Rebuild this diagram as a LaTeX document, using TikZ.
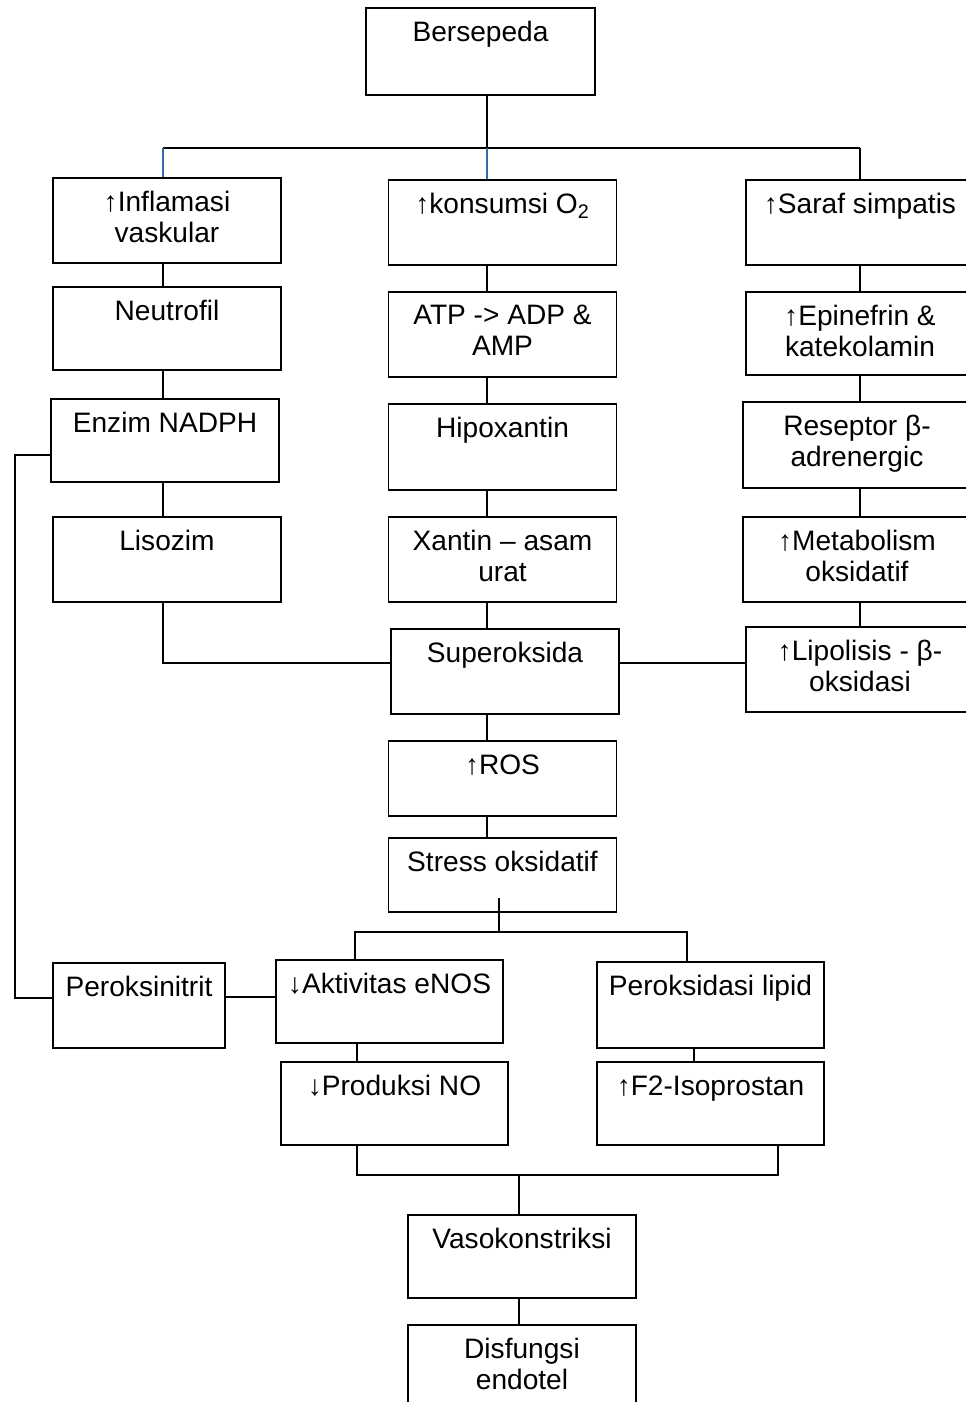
\documentclass[tikz,border=0pt]{standalone}
\usepackage{fontspec}
\setmainfont{Liberation Sans}
\definecolor{tickblue}{RGB}{55,105,170}
\begin{document}
\begin{tikzpicture}[
        x=0.02cm, y=-0.02cm,
        box/.style={draw, line width=1.1pt, inner sep=0pt, minimum width=4.56cm, minimum height=1.7cm},
        txt/.style={anchor=north, yshift=-0.28cm, inner sep=0pt, align=center, font=\fontsize{16}{17.6}\selectfont},
        link/.style={line width=1.1pt},
    ]
        \useasboundingbox (0,0) rectangle (966,1402);
        \clip (0,0) rectangle (966,1402);

        % Top
        \node[box, minimum width=4.58cm, minimum height=1.74cm] (bers) at (480.5,51.5) {};
        \node[txt] (bers-t) at (bers.north) {Bersepeda};

        % Left column
        \node[box] (infl) at (167,220.5) {};
        \node[txt] (infl-t) at (infl.north) {↑Inflamasi\\vaskular};
        \node[box, minimum height=1.66cm] (neut) at (167,328.5) {};
        \node[txt] (neut-t) at (neut.north) {Neutrofil};
        \node[box, minimum height=1.66cm] (nadph) at (165,440.5) {};
        \node[txt] (nadph-t) at (nadph.north) {Enzim NADPH};
        \node[box] (liso) at (167,559.5) {};
        \node[txt] (liso-t) at (liso.north) {Lisozim};

        % Middle column
        \node[box] (kons) at (502.5,222.5) {};
        \node[txt] (kons-t) at (kons.north) {↑konsumsi O\textsubscript{2}};
        \node[box] (atp) at (502.5,334.5) {};
        \node[txt] (atp-t) at (atp.north) {ATP -> ADP \&\\AMP};
        \node[box, minimum height=1.72cm] (hipo) at (502.5,447) {};
        \node[txt] (hipo-t) at (hipo.north) {Hipoxantin};
        \node[box] (xant) at (502.5,559.5) {};
        \node[txt] (xant-t) at (xant.north) {Xantin – asam\\urat};
        \node[box] (supe) at (505,671.5) {};
        \node[txt] (supe-t) at (supe.north) {Superoksida};
        \node[box, minimum height=1.5cm] (ros) at (502.5,778.5) {};
        \node[txt] (ros-t) at (ros.north) {↑ROS};
        \node[box, minimum height=1.48cm] (stress) at (502.5,875) {};
        \node[txt] (stress-t) at (stress.north) {Stress oksidatif};

        % Right column
        \node[box] (saraf) at (860,222.5) {};
        \node[txt] (saraf-t) at (saraf.north) {↑Saraf simpatis};
        \node[box, minimum height=1.66cm] (epi) at (860,333.5) {};
        \node[txt] (epi-t) at (epi.north) {↑Epinefrin \&\\katekolamin};
        \node[box, minimum height=1.72cm] (resep) at (857,445) {};
        \node[txt] (resep-t) at (resep.north) {Reseptor β-\\adrenergic};
        \node[box] (meta) at (857,559.5) {};
        \node[txt] (meta-t) at (meta.north) {↑Metabolism\\oksidatif};
        \node[box] (lipo) at (860,669.5) {};
        \node[txt] (lipo-t) at (lipo.north) {↑Lipolisis - β-\\oksidasi};

        % Lower part
        \node[box, minimum width=3.44cm] (pern) at (139,1005.5) {};
        \node[txt] (pern-t) at (pern.north) {Peroksinitrit};
        \node[box, minimum width=4.54cm, minimum height=1.66cm] (enos) at (389.5,1001.5) {};
        \node[txt] (enos-t) at (enos.north) {↓Aktivitas eNOS};
        \node[box, minimum width=4.54cm, minimum height=1.72cm] (perl) at (710.5,1005) {};
        \node[txt] (perl-t) at (perl.north) {Peroksidasi lipid};
        \node[box, minimum width=4.54cm, minimum height=1.66cm] (prod) at (394.5,1103.5) {};
        \node[txt] (prod-t) at (prod.north) {↓Produksi NO};
        \node[box, minimum width=4.54cm, minimum height=1.66cm] (f2) at (710.5,1103.5) {};
        \node[txt] (f2-t) at (f2.north) {↑F2-Isoprostan};
        \node[box, minimum height=1.66cm] (vaso) at (522,1256.5) {};
        \node[txt] (vaso-t) at (vaso.north) {Vasokonstriksi};
        \node[box] (disf) at (522,1367.5) {};
        \node[txt] (disf-t) at (disf.north) {Disfungsi\\endotel};

        % Branching from the top
        \coordinate (hubL) at (163,148);
        \coordinate (hub) at (487,148);
        \coordinate (hubR) at (860,148);
        \draw[link] (bers.south -| hub) -- (hub);
        \draw[link] (hubL) -- (hubR);
        \draw[link, tickblue] (hubL) -- (hubL |- infl.north);
        \draw[link, tickblue] (hub) -- (hub |- kons.north);
        \draw[link] (hubR) -- (hubR |- saraf.north);

        % Column links
        \draw[link] (infl.south -| hubL) -- (neut.north -| hubL);
        \draw[link] (neut.south -| hubL) -- (nadph.north -| hubL);
        \draw[link] (nadph.south -| hubL) -- (liso.north -| hubL);
        \draw[link] (kons.south -| hub) -- (atp.north -| hub);
        \draw[link] (atp.south -| hub) -- (hipo.north -| hub);
        \draw[link] (hipo.south -| hub) -- (xant.north -| hub);
        \draw[link] (xant.south -| hub) -- (supe.north -| hub);
        \draw[link] (supe.south -| hub) -- (ros.north -| hub);
        \draw[link] (ros.south -| hub) -- (stress.north -| hub);
        \draw[link] (saraf.south -| hubR) -- (epi.north -| hubR);
        \draw[link] (epi.south -| hubR) -- (resep.north -| hubR);
        \draw[link] (resep.south -| hubR) -- (meta.north -| hubR);
        \draw[link] (meta.south -| hubR) -- (lipo.north -| hubR);

        % Into Superoksida
        \draw[link] (liso.south -| hubL) |- (supe.west |- 0,663);
        \draw[link] (supe.east |- 0,663) -- (lipo.west |- 0,663);

        % Stress oksidatif fork
        \coordinate (forkL) at (355,932);
        \coordinate (forkR) at (687,932);
        \draw[link] (499,898) -- (499,932);
        \draw[link] (forkL |- enos.north) -- (forkL) -- (forkR) -- (forkR |- perl.north);

        % Peroksinitrit loop
        \coordinate (loopT) at (15,455);
        \coordinate (loopB) at (15,998);
        \draw[link] (nadph.west |- loopT) -- (loopT) -- (loopB) -- (pern.west |- loopB);
        \draw[link] (pern.east |- 0,997) -- (enos.west |- 0,997);

        % Towards the bottom
        \coordinate (joinL) at (357,1175);
        \coordinate (joinR) at (778,1175);
        \coordinate (join) at (519,1175);
        \draw[link] (enos.south -| joinL) -- (prod.north -| joinL);
        \draw[link] (perl.south -| 694,0) -- (f2.north -| 694,0);
        \draw[link] (prod.south -| joinL) -- (joinL) -- (joinR) -- (f2.south -| joinR);
        \draw[link] (join) -- (vaso.north -| join);
        \draw[link] (vaso.south -| join) -- (disf.north -| join);
    \end{tikzpicture}
\end{document}
